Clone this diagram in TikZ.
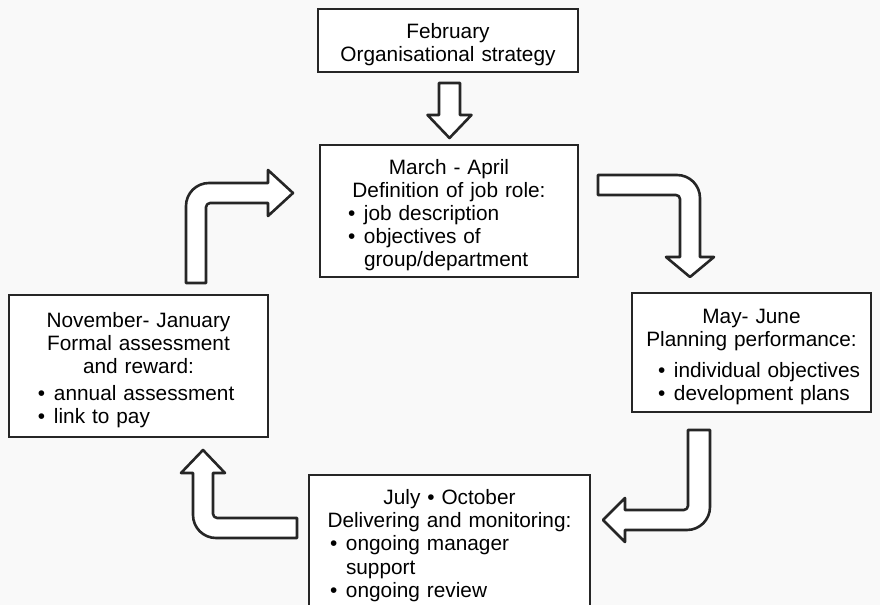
\documentclass[tikz,border=0pt]{standalone}
\usepackage{fontspec}
\setmainfont{Liberation Sans}
\usepackage{tikz}
\usetikzlibrary{positioning}

\newcommand{\hd}[1]{\par\noindent\makebox[\hsize]{#1}}
\newcommand{\bul}[1]{\par\noindent\makebox[8pt][l]{\textbullet}\mbox{#1}}
\newcommand{\cont}[1]{\par\noindent\hspace*{8pt}\mbox{#1}}

\begin{document}
\begin{tikzpicture}[x=0.5pt,y=-0.5pt,
  box/.style = {draw=black!85, line width=1pt, fill=white, inner ysep=3pt, font=\fontsize{10.4}{11.6}\selectfont},
  blk/.style = {draw=black!85, line width=1.3pt, fill=white, line join=round}]
        \useasboundingbox (0,0) rectangle (880,605);
        \clip (0,0) rectangle (880,605);
        \fill[gray!5] (0,0) rectangle (880,605);

        \node[box, text width=122pt, inner xsep=4pt, minimum height=31.5pt] (feb) at (448,40.5)
          {\hd{February}\hd{Organisational strategy}};
        \node[box, text width=101pt, inner xsep=14pt, minimum height=66pt] (mar) at (449,211)
          {\hd{March - April}\hd{Definition of job role:}\bul{job description}\bul{objectives of}\cont{group/department}};
        \node[box, text width=93.5pt, inner xsep=13pt, minimum height=59.5pt] (may) at (751.5,352.5)
          {\hd{May- June}\hd{Planning performance:}\vspace{4pt}\bul{individual objectives}\bul{development plans}};
        \node[box, text width=119.5pt, inner xsep=10.5pt, minimum height=66.5pt] (jul) at (449.5,541.5)
          {\hd{July \textbullet\ October}\hd{Delivering and monitoring:}\bul{ongoing manager}\cont{support}\bul{ongoing review}};
        \node[box, text width=100.5pt, inner xsep=14.5pt, minimum height=71pt] (nov) at (138.5,366)
          {\hd{November- January}\hd{Formal assessment}\hd{and reward:}\vspace{2pt}\bul{annual assessment}\bul{link to pay}};

        % block arrows round the cycle
        \coordinate (a1) at (449.5,83);
        \coordinate (a2) at (598,185);
        \coordinate (a3) at (699,430);
        \coordinate (a4) at (297,528);
        \coordinate (a5) at (196,283);
        \draw[blk, shift={(a1)}] (-10.5,0) -- (-10.5,32) -- (-22,32) -- (0,55) -- (22,32) -- (10.5,32) -- (10.5,0) -- cycle;
        \draw[blk, shift={(a2)}] (0,-10) -- (79,-10) .. controls (91.7,-10) and (102,0.3) .. (102,13) -- (102,72) -- (116,72) -- (92,92) -- (68,72) -- (82,72) -- (82,14) .. controls (82,11.8) and (80.2,10) .. (78,10) -- (0,10) -- cycle;
        \draw[blk, shift={(a3)}] (-11,0) -- (11,0) -- (11,77) .. controls (11,89.7) and (0.7,100) .. (-12,100) -- (-74,100) -- (-74,112) -- (-96,90) -- (-74,68) -- (-74,80) -- (-15,80) .. controls (-13,80) and (-11,78) .. (-11,76) -- cycle;
        \draw[blk, shift={(a4)}] (0,-10) -- (-80,-10) .. controls (-82,-10) and (-84,-12) .. (-84,-14) -- (-84,-55) -- (-72,-55) -- (-94,-78) -- (-116,-55) -- (-104,-55) -- (-104,-13) .. controls (-104,-0.3) and (-93.7,10) .. (-81,10) -- (0,10) -- cycle;
        \draw[blk, shift={(a5)}] (-10,0) -- (-10,-77) .. controls (-10,-89.7) and (0.3,-100) .. (13,-100) -- (72,-100) -- (72,-113) -- (97,-90) -- (72,-67) -- (72,-80) -- (14,-80) .. controls (12,-80) and (10,-78) .. (10,-76) -- (10,0) -- cycle;
      \end{tikzpicture}
\end{document}
